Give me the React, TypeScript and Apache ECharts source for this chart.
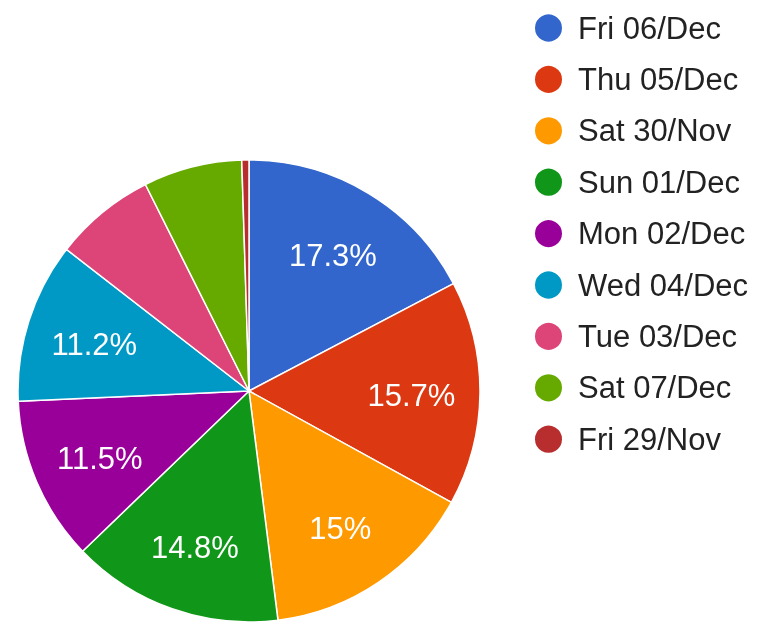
import React, { useEffect, useRef } from "react";
import * as echarts from "echarts";

const categories = [
  "Fri 06/Dec",
  "Thu 05/Dec",
  "Sat 30/Nov",
  "Sun 01/Dec",
  "Mon 02/Dec",
  "Wed 04/Dec",
  "Tue 03/Dec",
  "Sat 07/Dec",
  "Fri 29/Nov",
];
const values = [17.3, 15.7, 15.0, 14.8, 11.5, 11.2, 7.1, 6.9, 0.5];
const colors = [
  "#3366cc",
  "#dc3912",
  "#ff9900",
  "#109618",
  "#990099",
  "#0099c6",
  "#dd4477",
  "#66aa00",
  "#b82e2e",
];
const labelThreshold = 10;
const FONT = "'Liberation Sans'";

export default function App() {
  const ref = useRef<HTMLDivElement>(null);
  useEffect(() => {
    if (!ref.current) return;
    const chart = echarts.init(ref.current, undefined, { renderer: "svg" });
    const data = categories.map((name, i) => ({
      name,
      value: values[i],
      itemStyle: { color: colors[i] },
    }));
    const R = 231;
    chart.setOption({
      animation: false,
      color: colors,
      textStyle: { fontFamily: FONT },
      legend: {
        orient: "vertical",
        left: 528,
        top: 7.5,
        icon: "circle",
        itemWidth: 29,
        itemHeight: 29,
        itemGap: 20.4,
        selectedMode: false,
        textStyle: {
          fontFamily: FONT,
          fontSize: 31,
          lineHeight: 31,
          color: "#222222",
          padding: [0, 0, 0, 10],
        },
        data: categories,
      },
      series: [
        {
          type: "pie",
          center: [249, 391],
          radius: [0, R],
          startAngle: 90,
          clockwise: true,
          avoidLabelOverlap: false,
          label: { show: false },
          labelLine: { show: false },
          itemStyle: { borderColor: "#ffffff", borderWidth: 1.5 },
          emphasis: { disabled: true },
          data,
        },
        {
          type: "pie",
          center: [249, 391],
          radius: [R * 0.38, R],
          startAngle: 90,
          clockwise: true,
          silent: true,
          avoidLabelOverlap: false,
          legendHoverLink: false,
          itemStyle: { color: "transparent", borderWidth: 0 },
          labelLine: { show: false },
          label: {
            show: true,
            position: "inside",
            color: "#ffffff",
            fontFamily: FONT,
            fontSize: 31,
            offset: [0, 3],
            formatter: (p: any) =>
              p.value >= labelThreshold ? `${p.value}%` : "",
          },
          emphasis: { disabled: true },
          data: categories.map((name, i) => ({ name: name + " ", value: values[i] })),
        },
      ],
    });
    return () => chart.dispose();
  }, []);
  return (
    <div
      ref={ref}
      style={{ position: "fixed", left: 0, top: 0, width: 762, height: 622 }}
    />
  );
}
